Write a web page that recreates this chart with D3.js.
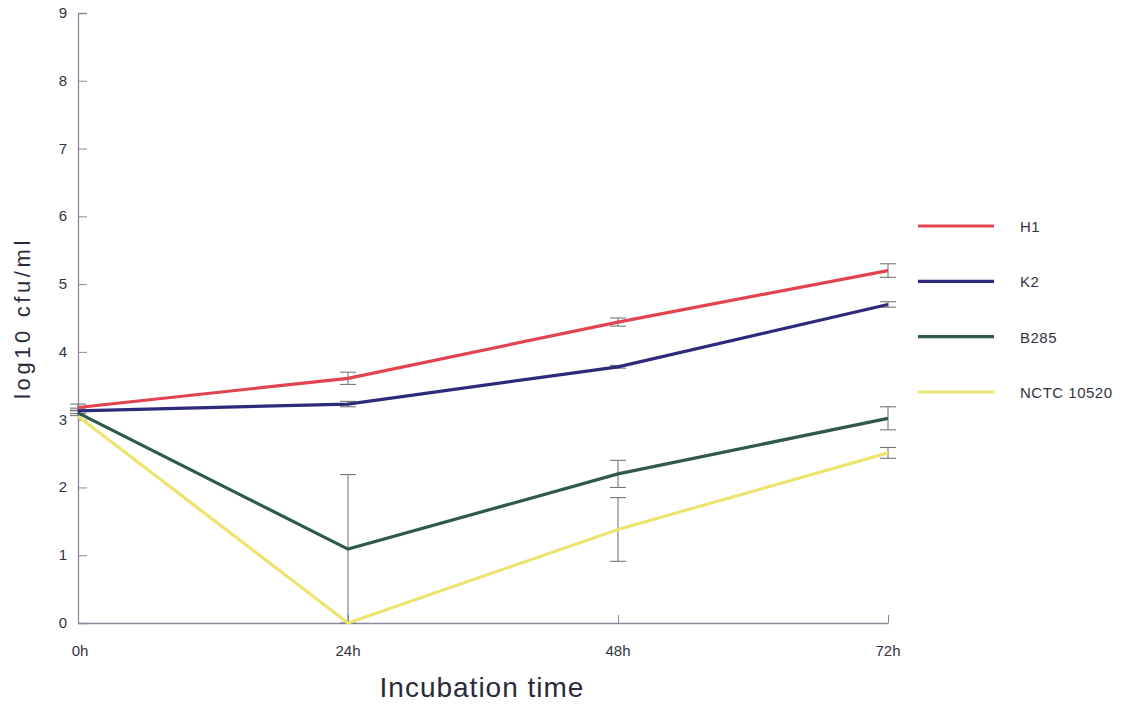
<!DOCTYPE html>
<html><head><meta charset="utf-8">
<script src="https://cdn.jsdelivr.net/npm/d3@7"></script>
<style>body{margin:0;background:#fff}svg{display:block}text{font-family:"Liberation Sans",Arial,sans-serif}</style>
</head><body><svg id="c" width="1148" height="708"></svg>
<script>
const times = ["0h","24h","48h","72h"];
const seriesNames = ["H1","K2","B285","NCTC 10520"];
const seriesColors = ["#e2434e","#2d2a7c","#2e5a47","#ece46e"];
const h1 = [3.18, 3.61, 4.44, 5.2];
const k2 = [3.13, 3.23, 3.78, 4.7];
const b285 = [3.1, 1.09, 2.2, 3.02];
const nctc = [3.05, 0, 1.38, 2.51];
const h1Err = [0.05, 0.09, 0.06, 0.1];
const k2Err = [0.04, 0.04, 0.02, 0.04];
const b285Err = [0.04, 1.1, 0.2, 0.17];
const nctcErr = [0.0, 0, 0.47, 0.08];
const yTicks = [0,1,2,3,4,5,6,7,8,9];

const values = [h1,k2,b285,nctc];
const errs = [h1Err,k2Err,b285Err,nctcErr];
const svg = d3.select("#c");
const x = d3.scalePoint().domain(times).range([78,888]);
const y = d3.scaleLinear().domain([0,9]).range([623,13]);

// axes
const yAx = svg.append("g").attr("transform","translate(78,0)")
  .call(d3.axisRight(y).tickValues(yTicks).tickSize(9).tickFormat(""));
yAx.select(".domain").attr("stroke","#8a8a9a").attr("stroke-width",1.3);
yAx.selectAll(".tick line").attr("stroke","#8a8a9a");
svg.append("g").selectAll("text").data(yTicks).join("text")
  .attr("x",67).attr("y",d=>y(d)+5).attr("text-anchor","end")
  .attr("font-size",15).attr("fill","#33333f").text(d=>d);
const xAx = svg.append("g").attr("transform","translate(0,623)")
  .call(d3.axisTop(x).tickSize(8).tickFormat("").tickSizeOuter(0));
xAx.select(".domain").attr("stroke","#8a8a9a").attr("stroke-width",1.3);
xAx.selectAll(".tick line").attr("stroke","#8a8a9a");
svg.append("g").selectAll("text").data(times).join("text")
  .attr("x",d=>x(d)+(d==="0h"?2:0)).attr("y",656).attr("text-anchor","middle")
  .attr("font-size",15).attr("fill","#33333f").text(d=>d);

svg.append("text").attr("transform","translate(30,318) rotate(-90)")
  .attr("text-anchor","middle").attr("font-size",22).attr("fill","#2a2a3a")
  .attr("letter-spacing",3.6).text("log10 cfu/ml");
svg.append("text").attr("x",482).attr("y",697).attr("text-anchor","middle")
  .attr("font-size",28).attr("fill","#2a2a3a").attr("letter-spacing",1).text("Incubation time");

// error bars
const eg = svg.append("g").attr("stroke","#777").attr("stroke-width",1.1);
values.forEach((vals,si)=>{
  vals.forEach((v,i)=>{
    const e = errs[si][i]; if(!e) return;
    const cx = x(times[i]);
    const lo = Math.max(0,v-e), hi = v+e;
    eg.append("line").attr("x1",cx).attr("x2",cx).attr("y1",y(lo)).attr("y2",y(hi));
    eg.append("line").attr("x1",cx-8).attr("x2",cx+8).attr("y1",y(hi)).attr("y2",y(hi));
    eg.append("line").attr("x1",cx-8).attr("x2",cx+8).attr("y1",y(lo)).attr("y2",y(lo));
  });
});

// lines (draw yellow first)
const line = d3.line().x((d,i)=>x(times[i])).y(d=>y(d));
[3,2,1,0].forEach(si=>{
  svg.append("path").datum(values[si]).attr("d",line).attr("fill","none")
    .attr("stroke",seriesColors[si]).attr("stroke-width",3.2);
});

// legend
const ly = d3.scalePoint().domain(seriesNames).range([226,392]);
const lg = svg.append("g");
lg.selectAll("line").data(seriesNames).join("line")
  .attr("x1",918).attr("x2",994).attr("y1",d=>ly(d)).attr("y2",d=>ly(d))
  .attr("stroke",(d,i)=>seriesColors[i]).attr("stroke-width",3.2);
lg.selectAll("text").data(seriesNames).join("text")
  .attr("x",1020).attr("y",d=>ly(d)+6).attr("font-size",15).attr("fill","#33333f")
  .attr("letter-spacing",0.5).text(d=>d);
</script></body></html>
